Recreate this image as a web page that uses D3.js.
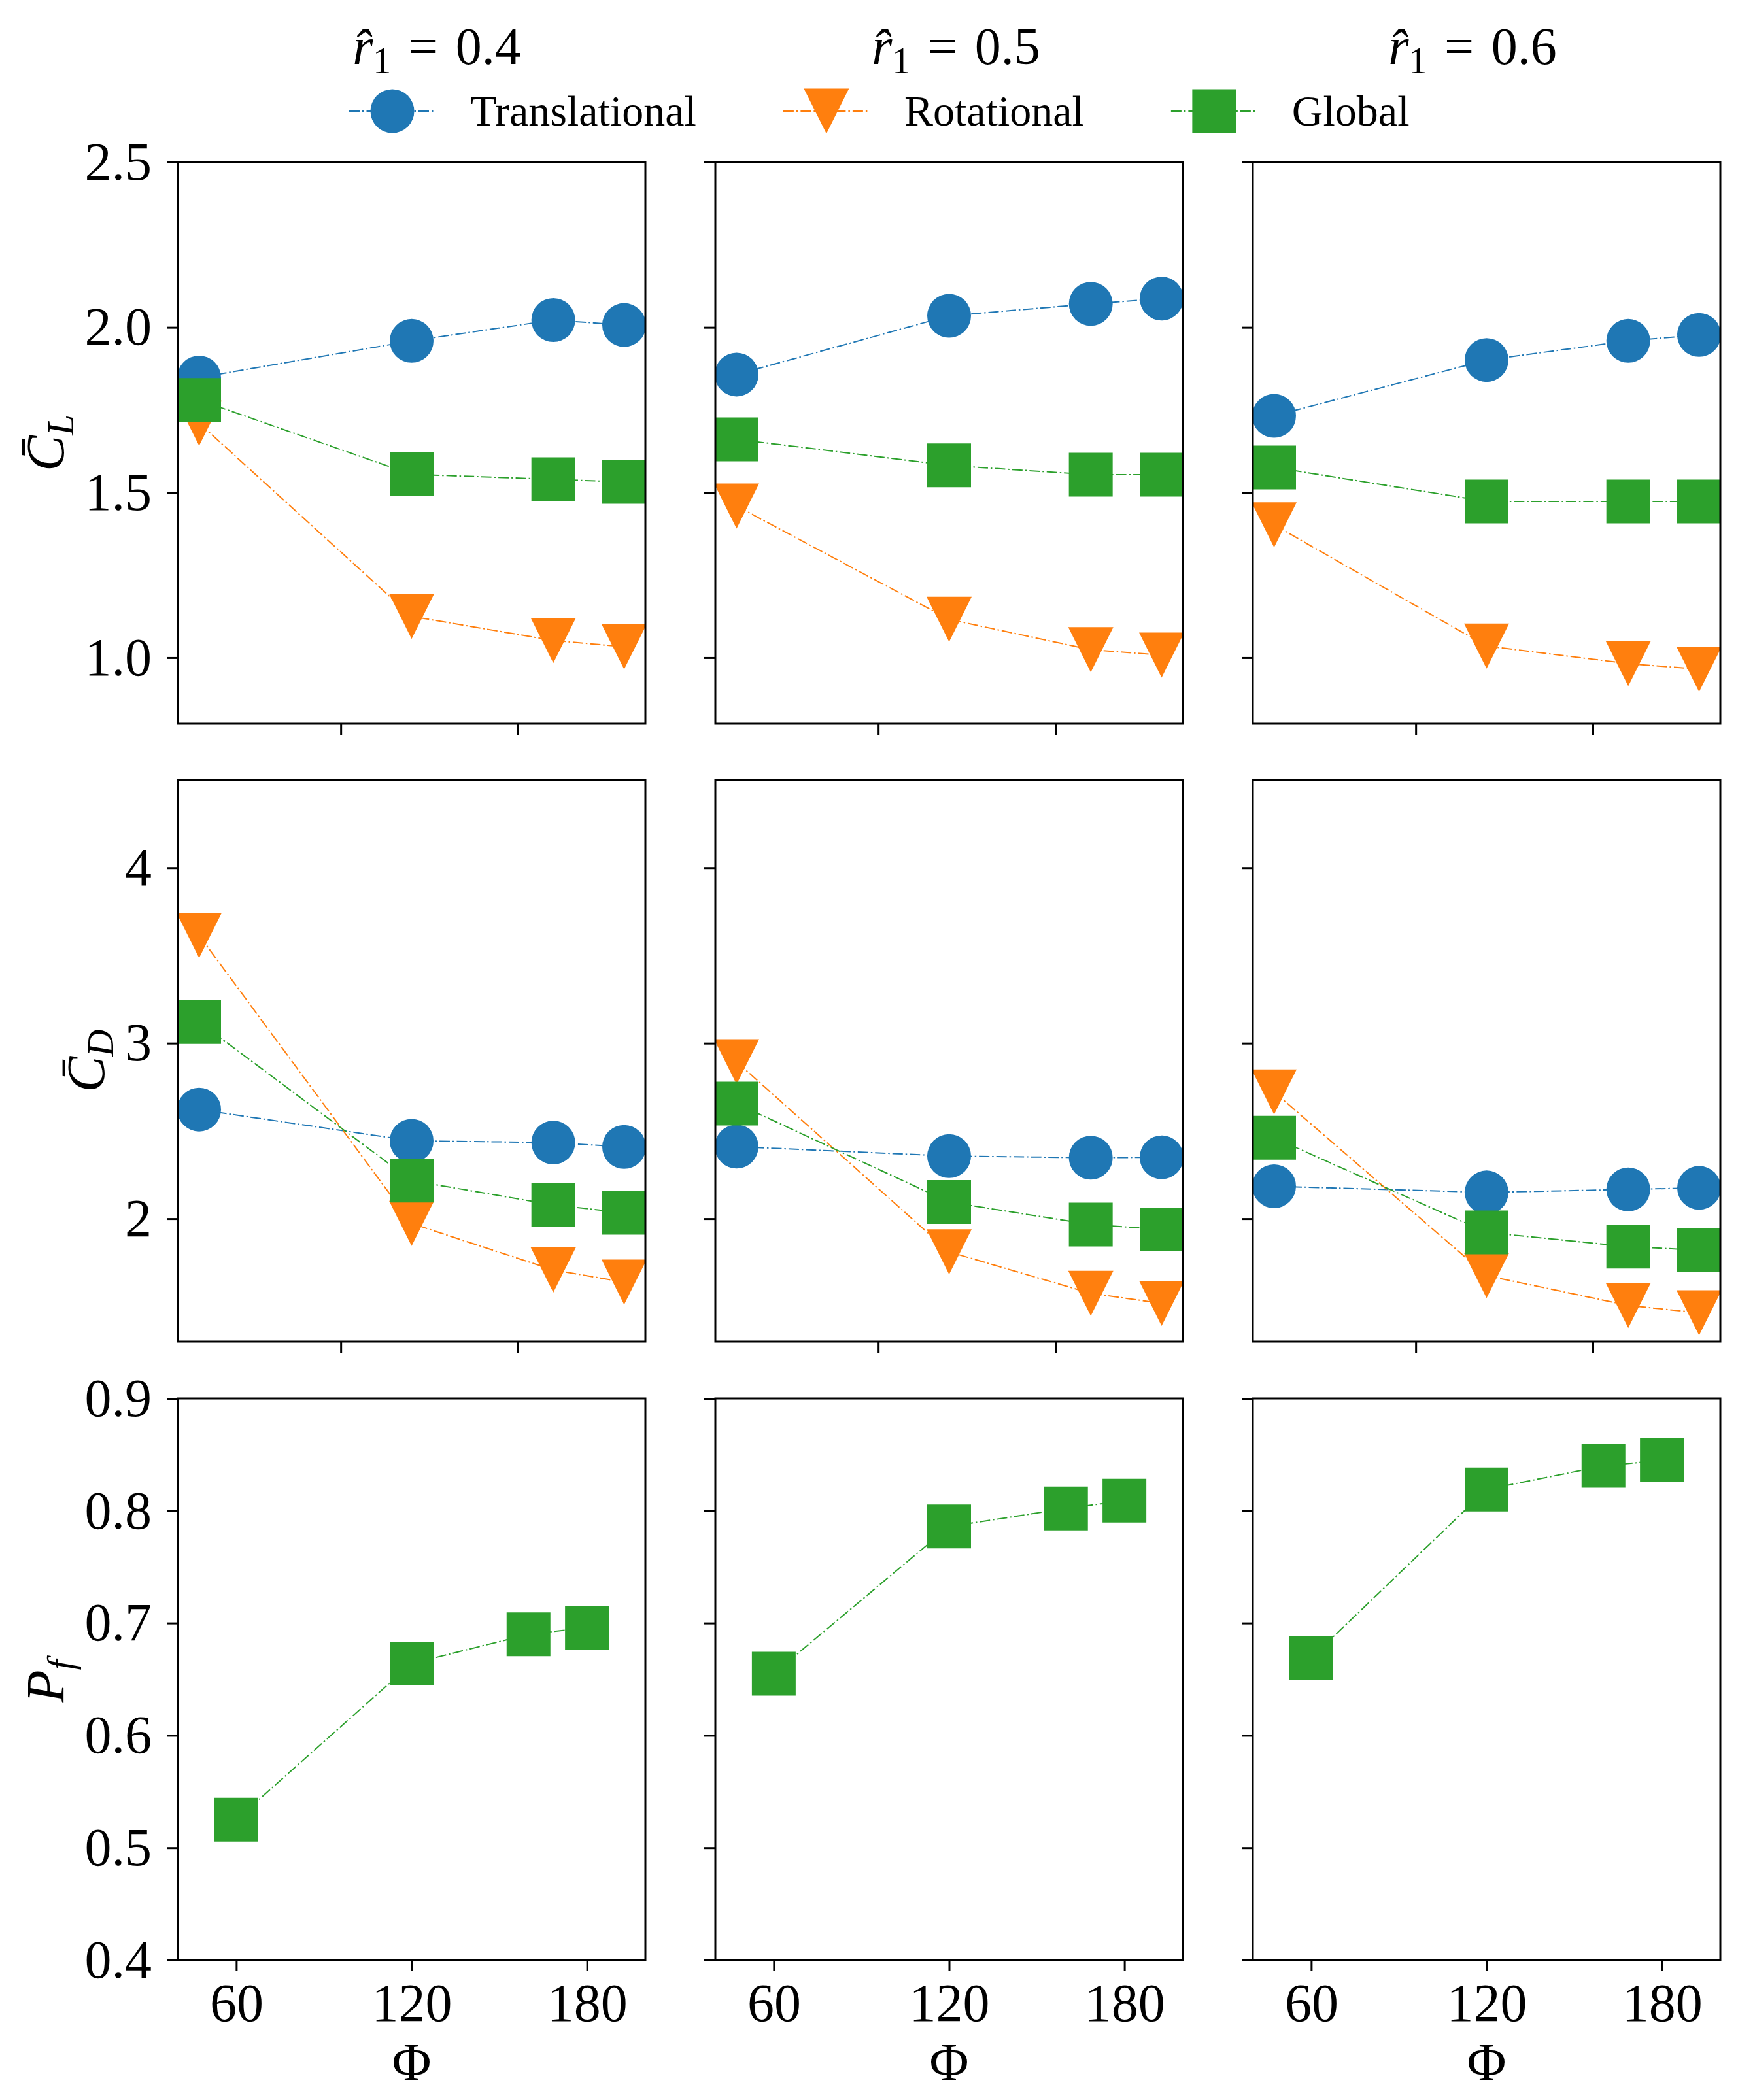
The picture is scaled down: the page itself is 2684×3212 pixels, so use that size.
<!DOCTYPE html>
<html>
<head>
<meta charset="utf-8">
<script src="https://cdn.jsdelivr.net/npm/d3@7"></script>
<style>
  body { margin: 0; background: #fff; }
  text { font-family: "Liberation Serif", "Times New Roman", serif; fill: #000; }
</style>
</head>
<body>
<div id="chart"></div>
<script>
// ---- data ----
var phi = [60, 120, 160, 180];
var ratios = ["0.4", "0.5", "0.6"];
var seriesNames = ["Translational", "Rotational", "Global"];

// lift coefficient, one row per r1
var clTranslational = [[1.848, 1.959, 2.022, 2.007], [1.857, 2.035, 2.071, 2.087], [1.732, 1.901, 1.959, 1.977]];
var clRotational    = [[1.710, 1.125, 1.052, 1.033], [1.459, 1.116, 1.024, 1.008], [1.402, 1.035, 0.982, 0.965]];
var clGlobal        = [[1.780, 1.555, 1.540, 1.532], [1.661, 1.582, 1.554, 1.554], [1.576, 1.473, 1.473, 1.473]];

// drag coefficient
var cdTranslational = [[2.622, 2.444, 2.434, 2.409], [2.411, 2.357, 2.348, 2.350], [2.185, 2.150, 2.167, 2.176]];
var cdRotational    = [[3.614, 1.973, 1.708, 1.639], [2.894, 1.811, 1.575, 1.518], [2.722, 1.676, 1.506, 1.464]];
var cdGlobal        = [[3.121, 2.217, 2.079, 2.034], [2.656, 2.095, 1.967, 1.939], [2.461, 1.922, 1.841, 1.821]];

// Pf (global only)
var pfGlobal = [[0.525, 0.664, 0.690, 0.696], [0.655, 0.786, 0.802, 0.809], [0.669, 0.819, 0.840, 0.845]];

var clTicks = [1.0, 1.5, 2.0, 2.5];
var cdTicks = [2, 3, 4];
var pfTicks = [0.4, 0.5, 0.6, 0.7, 0.8, 0.9];
var xTicksTop = [100, 150];
var xTicksBottom = [60, 120, 180];

// ---- layout ----
var svgWidth = 2684, svgHeight = 3212;
var colLeft = [272, 1094, 1916];
var rowTop = [248, 1193, 2139];
var panelW = 715, panelH = 859;
var colors = ["#1f77b4", "#ff7f0e", "#2ca02c"];
var markerSize = 67;
var tickFont = 82;

var rows = [
  { series: [clTranslational, clRotational, clGlobal], domain: [0.8, 2.5], ticks: clTicks, fmt: d3.format(".1f"), xdomain: [54, 186], xticks: xTicksTop },
  { series: [cdTranslational, cdRotational, cdGlobal], domain: [1.3, 4.5], ticks: cdTicks, fmt: d3.format("d"), xdomain: [54, 186], xticks: xTicksTop },
  { series: [null, null, pfGlobal], domain: [0.4, 0.9], ticks: pfTicks, fmt: d3.format(".1f"), xdomain: [40, 200], xticks: xTicksBottom }
];

var svg = d3.select("#chart").append("svg")
  .attr("width", svgWidth)
  .attr("height", svgHeight);

// marker paths, centred on the point
function markerPath(i) {
  var s = markerSize;
  if (i === 0) return d3.symbol().type(d3.symbolCircle).size(Math.PI * s * s / 4)();
  if (i === 2) return d3.symbol().type(d3.symbolSquare).size(s * s)();
  // downward triangle, same bbox as matplotlib "v"
  var h = s / 2;
  return "M0," + (h + 1) + "L" + (-h - 1) + "," + (-h - 1) + "L" + (h + 1) + "," + (-h - 1) + "Z";
}

rows.forEach(function (row, ri) {
  ratios.forEach(function (ratio, ci) {
    var g = svg.append("g")
      .attr("transform", `translate(${colLeft[ci]}, ${rowTop[ri]})`);

    var x = d3.scaleLinear().domain(row.xdomain).range([0, panelW]);
    var y = d3.scaleLinear().domain(row.domain).range([panelH, 0]);

    var clipId = "clip-" + ri + "-" + ci;
    g.append("clipPath").attr("id", clipId)
      .append("rect").attr("width", panelW).attr("height", panelH);

    var plot = g.append("g").attr("clip-path", `url(#${clipId})`);

    row.series.forEach(function (s, si) {
      if (!s) return;
      var vals = s[ci];
      var pts = phi.map(function (p, k) { return [p, vals[k]]; });
      var line = d3.line().x(d => x(d[0])).y(d => y(d[1]));
      plot.append("path")
        .attr("d", line(pts))
        .attr("fill", "none")
        .attr("stroke", colors[si])
        .attr("stroke-width", 2)
        .attr("stroke-dasharray", "16,4,2.5,4");
      plot.selectAll(".m" + si)
        .data(pts)
        .enter()
        .append("path")
        .attr("transform", d => `translate(${x(d[0])}, ${y(d[1])})`)
        .attr("d", markerPath(si))
        .attr("fill", colors[si]);
    });

    // y axis
    var leftAxis = d3.axisLeft(y).tickValues(row.ticks).tickSize(17).tickPadding(23)
      .tickFormat(ci === 0 ? row.fmt : function () { return ""; });
    var ya = g.append("g").call(leftAxis);
    ya.select(".domain").remove();
    ya.selectAll("line").attr("stroke-width", 3);
    ya.selectAll("text").attr("font-size", tickFont).attr("font-family", null);

    // x axis
    var bottomAxis = d3.axisBottom(x).tickValues(row.xticks).tickSize(17).tickPadding(18)
      .tickFormat(ri === 2 ? d3.format("d") : function () { return ""; });
    var xa = g.append("g").attr("transform", `translate(0, ${panelH})`).call(bottomAxis);
    xa.select(".domain").remove();
    xa.selectAll("line").attr("stroke-width", 3);
    xa.selectAll("text").attr("font-size", tickFont).attr("font-family", null);

    // frame
    g.append("rect")
      .attr("width", panelW).attr("height", panelH)
      .attr("fill", "none").attr("stroke", "#000").attr("stroke-width", 3);

    if (ri === 2) {
      g.append("text")
        .attr("x", panelW / 2)
        .attr("y", panelH + 184)
        .attr("text-anchor", "middle")
        .attr("font-size", tickFont)
        .text("\u03A6");
    }

    // y label on first column
    if (ci === 0) {
      var tickBox = ya.node().getBBox();
      var lg = svg.append("g");
      var t = lg.append("text").attr("transform", "rotate(-90)").attr("font-size", tickFont);
      if (ri === 0) {
        t.append("tspan").attr("font-style", "italic").text("C\u0304");
        t.append("tspan").attr("font-style", "italic").attr("font-size", "70%").attr("dy", "0.25em").text("L");
      } else if (ri === 1) {
        t.append("tspan").attr("font-style", "italic").text("C\u0304");
        t.append("tspan").attr("font-style", "italic").attr("font-size", "70%").attr("dy", "0.25em").text("D");
      } else {
        t.append("tspan").attr("font-style", "italic").text("P");
        t.append("tspan").attr("font-style", "italic").attr("font-size", "70%").attr("dy", "0.25em").text("f");
      }
      var bb = lg.node().getBBox();
      var right = colLeft[0] + tickBox.x - 6;
      var cy = rowTop[ri] + panelH / 2;
      lg.attr("transform", `translate(${right - (bb.x + bb.width)}, ${cy - (bb.y + bb.height / 2)})`);
    }
  });
});

// column titles (figure text)
var titleX = [668, 1462, 2252];
ratios.forEach(function (ratio, i) {
  var t = svg.append("text")
    .attr("x", titleX[i])
    .attr("y", 98)
    .attr("text-anchor", "middle")
    .attr("font-size", 80);
  t.append("tspan").attr("font-style", "italic").text("r\u0302");
  t.append("tspan").attr("font-size", "70%").attr("dy", "0.25em").text("1");
  t.append("tspan").attr("dy", "-0.175em").text("\u2004=\u2004" + ratio);
});

// legend
var legendY = 170;
var lx = 600;
seriesNames.forEach(function (name, i) {
  var lgd = svg.append("g");
  lgd.append("line")
    .attr("x1", lx - 66).attr("x2", lx + 66)
    .attr("y1", legendY).attr("y2", legendY)
    .attr("stroke", colors[i]).attr("stroke-width", 2)
    .attr("stroke-dasharray", "16,4,2.5,4");
  lgd.append("path")
    .attr("transform", `translate(${lx}, ${legendY})`)
    .attr("d", markerPath(i))
    .attr("fill", colors[i]);
  var txt = lgd.append("text")
    .attr("x", lx + 119)
    .attr("y", legendY + 22)
    .attr("font-size", 66)
    .text(name);
  lx = lx + 119 + txt.node().getComputedTextLength() + 199;
});
</script>
</body>
</html>
